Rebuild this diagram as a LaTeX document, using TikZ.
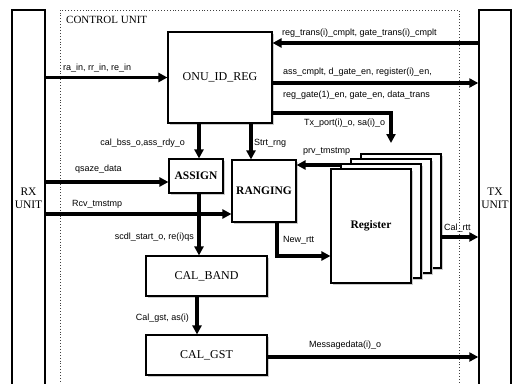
\documentclass[tikz,border=0pt]{standalone}
\usepackage{fontspec}
\setmainfont{Liberation Serif}
\setsansfont{Liberation Sans}
\usetikzlibrary{arrows.meta,shadows}
\begin{document}
\begin{tikzpicture}[x=1pt,y=-1pt,
  blk/.style={draw, line width=1.1pt, fill=white, inner sep=0pt,
    font=\fontsize{12}{13}\selectfont,
    drop shadow={shadow xshift=2pt,shadow yshift=-2pt,fill=gray!40,opacity=1}},
  bblk/.style={blk, font=\bfseries\fontsize{11.5}{13}\selectfont},
  sig/.style={line width=3.3pt, -{Triangle[length=9pt,width=9pt]}},
  lbl/.style={font=\sffamily\fontsize{9}{10}\selectfont, inner sep=0pt},
  unitbox/.style={draw, line width=1.4pt, inner sep=0pt},
  unittxt/.style={font=\fontsize{11.5}{13}\selectfont, align=center, inner sep=0pt},
]
\useasboundingbox (0,0) rectangle (519,383);

% outer units
\node[unitbox, minimum width=33pt, minimum height=400pt] (rx) at (28.5,210) {};
\node[unitbox, minimum width=32pt, minimum height=400pt] (tx) at (495,210) {};
\node[draw=black!75, dotted, line width=0.9pt, minimum width=399pt, minimum height=400pt, inner sep=0pt] (cu) at (259.5,210) {};
\node[unittxt] (rxt) at (28.5,198) {RX\\UNIT};
\node[unittxt] (txt) at (495,198) {TX\\UNIT};
\node[anchor=west, font=\fontsize{11}{12}\selectfont, inner sep=0pt] (cul) at (66,20) {CONTROL UNIT};

% blocks
\node[blk, minimum width=104pt, minimum height=91pt] (onu) at (220,77.5) {ONU\_ID\_REG};
\node[bblk, minimum width=54pt, minimum height=34pt] (assign) at (196,176) {ASSIGN};
\node[bblk, minimum width=64pt, minimum height=62pt] (ranging) at (264,191) {RANGING};
\node[blk, minimum width=121pt, minimum height=40pt] (calband) at (206.5,276) {CAL\_BAND};
\node[blk, minimum width=121pt, minimum height=40pt] (calgst) at (206.5,355) {CAL\_GST};
\node[blk, minimum width=80pt, minimum height=114pt] (r4) at (401,211) {};
\node[blk, minimum width=80pt, minimum height=114pt] (r3) at (391,216) {};
\node[blk, minimum width=80pt, minimum height=114pt] (r2) at (381,221) {};
\node[bblk, minimum width=80pt, minimum height=114pt] (r1) at (371,226) {Register};

% connectors
\draw[sig] (rx.east |- onu.west) -- (onu.west);
\node[lbl, anchor=west] (l1) at (63,68) {ra\_in, rr\_in, re\_in};

\draw[sig] (tx.west |- 0,43) -- (onu.east |- 0,43);
\node[lbl, anchor=west] (l2) at (282,33) {reg\_trans(i)\_cmplt, gate\_trans(i)\_cmplt};

\draw[sig] (onu.east |- 0,83) -- (tx.west |- 0,83);
\node[lbl, anchor=west] (l3) at (283,72) {ass\_cmplt, d\_gate\_en, register(i)\_en,};
\node[lbl, anchor=west] (l4) at (283,95) {reg\_gate(1)\_en, gate\_en, data\_trans};

\coordinate (txp) at (391,143);
\draw[sig] (onu.east |- 0,113) -| (txp);
\node[lbl, anchor=west] (l5) at (304,123) {Tx\_port(i)\_o, sa(i)\_o};

\draw[sig] (onu.south -| 199,0) -- (assign.north -| 199,0);
\node[lbl, anchor=east] (l6) at (185,143) {cal\_bss\_o,ass\_rdy\_o};

\draw[sig] (onu.south -| 251,0) -- (ranging.north -| 251,0);
\node[lbl, anchor=west] (l7) at (254,143) {Strt\_rng};

\draw[sig] (rx.east |- 0,182) -- (assign.west |- 0,182);
\node[lbl, anchor=west] (l8) at (75,169) {qsaze\_data};

\draw[sig] (rx.east |- 0,214) -- (ranging.west |- 0,214);
\node[lbl, anchor=west] (l9) at (72,204) {Rcv\_tmstmp};

\draw[sig] (assign.south -| 199,0) -- (calband.north -| 199,0);
\node[lbl, anchor=east] (l10) at (194,237) {scdl\_start\_o, re(i)qs};

\draw[sig] (calband.south -| 197,0) -- (calgst.north -| 197,0);
\node[lbl, anchor=east] (l11) at (189,318) {Cal\_gst, as(i)};

\draw[sig] (r2.west |- 0,165) -- (ranging.east |- 0,165);
\node[lbl, anchor=west] (l12) at (303,152) {prv\_tmstmp};

\draw[sig] (ranging.south -| 277,0) |- (r1.west |- 0,256);
\node[lbl, anchor=west] (l13) at (283,240) {New\_rtt};

\draw[sig] (r4.east |- 0,237) -- (tx.west |- 0,237);
\node[lbl, anchor=west] (l14) at (444,228) {Cal\_rtt};

\draw[sig] (calgst.east |- 0,357) -- (tx.west |- 0,357);
\node[lbl, anchor=west] (l15) at (309,345) {Messagedata(i)\_o};
\end{tikzpicture}
\end{document}
